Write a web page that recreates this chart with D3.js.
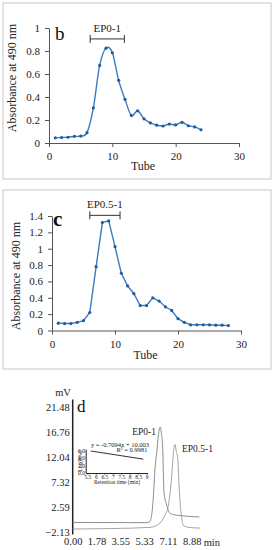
<!DOCTYPE html>
<html>
<head>
<meta charset="utf-8">
<script src="https://cdn.jsdelivr.net/npm/d3@7"></script>
<style>
  body { margin: 0; background: #fff; }
  svg { display: block; }
  svg text { font-family: "Liberation Serif", "Times New Roman", serif; }
</style>
</head>
<body>
<div id="chart"></div>
<script>
;(function () {
  // DATA
  // panel b: DEAE elution of EP0-1
  const tubesB = [1, 2, 3, 4, 5, 6, 7, 8, 9, 10, 11, 12, 13, 14, 15, 16, 17, 18, 19, 20, 21, 22, 23, 24]
  const absB = [0.045, 0.048, 0.05, 0.058, 0.06, 0.09, 0.305, 0.675, 0.825, 0.785, 0.545, 0.38, 0.24, 0.28, 0.21, 0.175, 0.155, 0.148, 0.165, 0.157, 0.18, 0.15, 0.14, 0.115]
  // panel c: elution of EP0.5-1
  const tubesC = [1, 2, 3, 4, 5, 6, 7, 8, 9, 10, 11, 12, 13, 14, 15, 16, 17, 18, 19, 20, 21, 22, 23, 24, 25, 26, 27, 28]
  const absC = [0.09, 0.085, 0.085, 0.1, 0.12, 0.22, 0.78, 1.32, 1.34, 1.025, 0.7, 0.545, 0.45, 0.305, 0.305, 0.4, 0.36, 0.29, 0.245, 0.145, 0.1, 0.07, 0.07, 0.07, 0.07, 0.065, 0.065, 0.06]
  const tubeTicks = [0, 10, 20, 30]
  const absTicksB = [0, 0.2, 0.4, 0.6, 0.8, 1]
  const absTicksC = [0, 0.2, 0.4, 0.6, 0.8, 1, 1.2, 1.4]
  const poolB = [6.5, 11.9]
  const poolC = [6.0, 10.8]

  // panel d: HPGPC traces
  const timeEP0 = [0, 2.78, 5.54, 5.77, 5.92, 6.01, 6.14, 6.27, 6.4, 6.54, 6.63, 6.72, 6.81, 7.01, 7.26, 7.63, 8.0, 9.45]
  const mvEP0 = [-0.33, -0.35, -0.36, -0.08, 1.59, 4.19, 9.77, 12.87, 16.27, 17.71, 16.27, 13.49, 5.44, 2.95, 1.4, 1.09, 0.97, 0.71]
  const timeEP05 = [0, 2.78, 5.77, 6.51, 6.89, 7.14, 7.26, 7.39, 7.51, 7.63, 7.73, 7.84, 7.93, 8.01, 8.14, 8.23, 8.75, 9.5]
  const mvEP05 = [-1.57, -1.48, -1.26, -0.46, 1.09, 2.95, 5.12, 8.52, 12.56, 14.42, 13.11, 11.63, 6.98, 3.58, 0.47, -0.83, -1.29, -1.39]
  const mvTicks = [-2.13, 2.59, 7.32, 12.04, 16.76, 21.48]
  const minTicks = [0, 1.78, 3.55, 5.33, 7.11, 8.88]
  // calibration inset
  const calRt = [5.7, 8.8]
  const calLogMw = [5.96, 3.76]
  const rtTicks = [5.5, 6, 6.5, 7, 7.5, 8, 8.5, 9]
  const logTicks = [0, 2, 4, 6]

  const width = 277
  const height = 550
  const serif = "'Liberation Serif', 'Times New Roman', serif"

  const svg = d3.select("#chart")
    .append("svg")
    .attr("width", width)
    .attr("height", height)
    .attr("font-family", serif)

  function styleAxis(g, size) {
    g.attr("font-family", serif).attr("font-size", null)
    g.selectAll("text").style("font-size", size + "px").attr("fill", "#222")
    g.selectAll("line").attr("stroke", "#555")
    g.select(".domain").attr("stroke", "#555")
  }

  function elutionPanel(o) {
    // frame
    svg.append("rect")
      .attr("x", o.box[0]).attr("y", o.box[1])
      .attr("width", o.box[2]).attr("height", o.box[3])
      .attr("fill", "none")
      .attr("stroke", "#cfcfcf")
      .attr("stroke-width", 1.2)

    const x = d3.scaleLinear().domain([0, 30]).range(o.xr)
    const y = d3.scaleLinear().domain([0, o.yMax]).range(o.yr)

    svg.append("g")
      .attr("transform", `translate(0,${o.yr[0]})`)
      .call(d3.axisBottom(x).tickValues(tubeTicks).tickSize(4).tickSizeOuter(0).tickPadding(o.xPad))
      .call(g => styleAxis(g, 11))

    svg.append("g")
      .attr("transform", `translate(${o.xr[0]},0)`)
      .call(d3.axisLeft(y).tickValues(o.yTicks).tickFormat(d3.format("~g")).tickSize(4).tickSizeOuter(0).tickPadding(5))
      .call(g => styleAxis(g, 11))

    const pts = o.tubes.map((t, i) => [t, o.abs[i]])
    const line = d3.line()
      .x(d => x(d[0]))
      .y(d => y(d[1]))
      .curve(o.curve)

    svg.append("path")
      .datum(pts)
      .attr("d", line)
      .attr("fill", "none")
      .attr("stroke", "#3b7bbf")
      .attr("stroke-width", 1.4)

    svg.append("g")
      .selectAll("circle")
      .data(pts)
      .join("circle")
      .attr("cx", d => x(d[0]))
      .attr("cy", d => y(d[1]))
      .attr("r", 1.6)
      .attr("fill", "#215d9c")

    // pooled fraction bracket
    const by = y(o.bracketY)
    const bg = svg.append("g").attr("stroke", "#333").attr("stroke-width", 1)
    bg.append("line").attr("x1", x(o.pool[0])).attr("x2", x(o.pool[1])).attr("y1", by).attr("y2", by)
    o.pool.forEach(p => {
      bg.append("line").attr("x1", x(p)).attr("x2", x(p)).attr("y1", by - 4).attr("y2", by + 4)
    })
    svg.append("text")
      .attr("x", x((o.pool[0] + o.pool[1]) / 2))
      .attr("y", by - 7)
      .attr("text-anchor", "middle")
      .style("font-size", "11px")
      .attr("fill", "#222")
      .text(o.name)

    // panel letter
    svg.append("text")
      .attr("x", o.letterPos[0]).attr("y", o.letterPos[1])
      .style("font-size", o.letterSize + "px")
      .style("font-weight", o.letterWeight)
      .attr("fill", "#111")
      .text(o.letter)

    // axis titles
    svg.append("text")
      .attr("x", (o.xr[0] + o.xr[1]) / 2 - 1)
      .attr("y", o.tubeY)
      .attr("text-anchor", "middle")
      .style("font-size", "12px")
      .attr("fill", "#222")
      .text("Tube")

    svg.append("text")
      .attr("transform", `translate(${o.yLabelX},${o.yLabelY}) rotate(-90)`)
      .attr("text-anchor", "middle")
      .style("font-size", "12px")
      .attr("fill", "#222")
      .text("Absorbance at 490 nm")
  }

  elutionPanel({
    box: [3, 3, 268, 176],
    xr: [49, 239], yr: [143, 28], yMax: 1, yTicks: absTicksB, xPad: 5,
    tubes: tubesB, abs: absB, curve: d3.curveCardinal.tension(0),
    pool: poolB, bracketY: 0.905, name: "EP0-1",
    letter: "b", letterPos: [55, 40], letterSize: 19, letterWeight: "normal",
    tubeY: 170, yLabelX: 16, yLabelY: 78
  })

  elutionPanel({
    box: [3, 190, 268, 179],
    xr: [52, 241], yr: [330.5, 216], yMax: 1.4, yTicks: absTicksC, xPad: 6,
    tubes: tubesC, abs: absC, curve: d3.curveLinear,
    pool: poolC, bracketY: 1.408, name: "EP0.5-1",
    letter: "c", letterPos: [53, 226], letterSize: 21, letterWeight: "bold",
    tubeY: 359, yLabelX: 20, yLabelY: 276
  })

  // PANEL d
  const xD = d3.scaleLinear().domain([0, 8.88]).range([72.7, 191.7])
  const yD = d3.scaleLinear().domain([-2.13, 21.48]).range([532, 407])

  svg.append("line")
    .attr("x1", xD(0)).attr("x2", xD(0))
    .attr("y1", yD(22.9)).attr("y2", yD(-2.6))
    .attr("stroke", "#222")
    .attr("stroke-width", 1.5)

  svg.append("g")
    .attr("transform", `translate(${xD(0) - 1},0)`)
    .call(d3.axisLeft(yD).tickValues(mvTicks).tickFormat(d3.format(".2f")).tickSize(0).tickPadding(2))
    .call(g => g.select(".domain").remove())
    .call(g => styleAxis(g, 10.5))

  svg.append("g")
    .attr("transform", `translate(0,${yD(-2.13) + 6})`)
    .call(d3.axisBottom(xD).tickValues(minTicks).tickFormat(d3.format(".2f")).tickSize(0).tickPadding(0))
    .call(g => g.select(".domain").remove())
    .call(g => styleAxis(g, 10.5))

  svg.append("text")
    .attr("x", xD(8.88) + 12).attr("y", yD(-2.13) + 13.5)
    .style("font-size", "10.5px").attr("fill", "#222")
    .text("min")

  svg.append("text")
    .attr("x", 63).attr("y", 396)
    .attr("text-anchor", "middle")
    .style("font-size", "10.5px").attr("fill", "#222")
    .text("mV")

  svg.append("text")
    .attr("x", 77).attr("y", 412)
    .style("font-size", "17px").attr("fill", "#111")
    .text("d")

  const traceLine = d3.line()
    .x(d => xD(d[0]))
    .y(d => yD(d[1]))
    .curve(d3.curveMonotoneX)

  svg.append("path")
    .datum(timeEP0.map((t, i) => [t, mvEP0[i]]))
    .attr("d", traceLine)
    .attr("fill", "none")
    .attr("stroke", "#808080")
    .attr("stroke-width", 0.9)

  svg.append("path")
    .datum(timeEP05.map((t, i) => [t, mvEP05[i]]))
    .attr("d", traceLine)
    .attr("fill", "none")
    .attr("stroke", "#9a9a9a")
    .attr("stroke-width", 0.9)

  svg.append("text")
    .attr("x", 144).attr("y", 435)
    .attr("text-anchor", "middle")
    .style("font-size", "9.5px").attr("fill", "#222")
    .text("EP0-1")

  svg.append("text")
    .attr("x", 182).attr("y", 452)
    .style("font-size", "9.5px").attr("fill", "#222")
    .text("EP0.5-1")

  // calibration inset
  const xI = d3.scaleLinear().domain([5.4, 9.05]).range([85.7, 147.5])
  const yI = d3.scaleLinear().domain([0, 6.5]).range([473, 449])

  svg.append("g")
    .attr("transform", `translate(0,${yI(0)})`)
    .call(d3.axisBottom(xI).tickValues(rtTicks).tickFormat(d3.format("~g")).tickSize(1.5).tickSizeOuter(0).tickPadding(0.5))
    .call(g => styleAxis(g, 5.5))
    .call(g => g.selectAll("line, .domain").attr("stroke", "#222"))

  svg.append("g")
    .attr("transform", `translate(${xI.range()[0]},0)`)
    .call(d3.axisLeft(yI).tickValues(logTicks).tickSize(0).tickSizeOuter(0).tickPadding(0.8))
    .call(g => styleAxis(g, 5.5))
    .call(g => g.selectAll(".domain").attr("stroke", "#222"))

  svg.append("path")
    .datum(calRt.map((t, i) => [t, calLogMw[i]]))
    .attr("d", d3.line().x(d => xI(d[0])).y(d => yI(d[1])))
    .attr("stroke", "#333")
    .attr("stroke-width", 1)

  svg.append("text")
    .attr("transform", `translate(82,461) rotate(-90)`)
    .attr("text-anchor", "middle")
    .style("font-size", "5.5px").attr("fill", "#222")
    .text("Log(Mw)")

  svg.append("text")
    .attr("x", 117).attr("y", 483.5)
    .attr("text-anchor", "middle")
    .style("font-size", "5.5px").attr("fill", "#222")
    .text("Retention time (min)")

  svg.append("text")
    .attr("x", 120).attr("y", 446.5)
    .attr("text-anchor", "middle")
    .style("font-size", "6.5px").attr("fill", "#222")
    .text("y = -0.7094x + 10.003")

  svg.append("text")
    .attr("x", 147.5).attr("y", 452)
    .attr("text-anchor", "end")
    .style("font-size", "6.5px").attr("fill", "#222")
    .text("R\u00b2 = 0.9981")
})()
</script>
</body>
</html>
